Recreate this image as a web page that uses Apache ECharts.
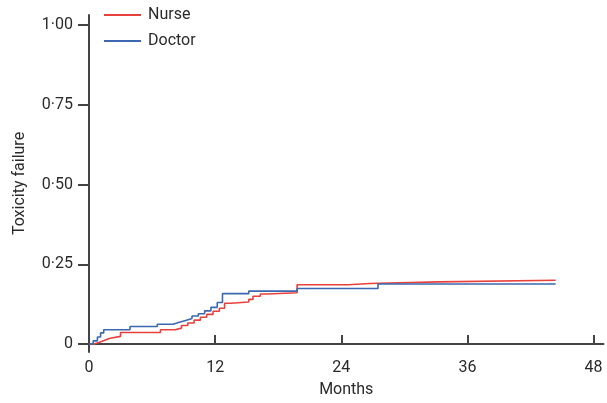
<!DOCTYPE html>
<html>
<head>
<meta charset="utf-8">
<script src="https://cdn.jsdelivr.net/npm/echarts@6/dist/echarts.min.js"></script>
<style>
html,body{margin:0;padding:0;background:#fff;}
#chart{width:607px;height:403px;}
</style>
</head>
<body>
<div id="chart"></div>
<script>
// Data (months, cumulative toxicity failure)
var seriesNames = ['Nurse', 'Doctor'];
var xTicks = [0, 12, 24, 36, 48];
var yTicks = [0, 0.25, 0.5, 0.75, 1];
var yTickLabels = ['0', '0·25', '0·50', '0·75', '1·00'];

var nurseMonths = [0, 0.5, 1.0, 1.5, 2.0, 3.0, 6.8, 8.2, 8.8, 9.4, 10.0, 10.6, 11.2, 11.8, 12.4, 12.9, 13.5, 15.2, 15.6, 16.3, 17.0, 19.8, 24.7, 26.7, 33.3, 44.4];
var nurseValues = [0, 0.006, 0.012, 0.018, 0.024, 0.036, 0.045, 0.05, 0.058, 0.066, 0.075, 0.084, 0.093, 0.103, 0.112, 0.128, 0.132, 0.14, 0.15, 0.157, 0.161, 0.186, 0.19, 0.195, 0.2, 0.2];

var doctorMonths = [0, 0.4, 0.8, 1.1, 1.4, 3.9, 6.5, 8.0, 8.6, 9.2, 9.8, 10.4, 11.0, 11.6, 12.2, 12.7, 15.2, 19.8, 27.5, 44.4];
var doctorValues = [0, 0.01, 0.022, 0.035, 0.045, 0.055, 0.062, 0.068, 0.074, 0.08, 0.088, 0.095, 0.104, 0.115, 0.13, 0.158, 0.166, 0.174, 0.188, 0.188];

function zip(a, b) { return a.map(function (v, i) { return [v, b[i]]; }); }

var axisColor = '#444';
var textColor = '#2a2a2a';
var font = 'Roboto';

var chart = echarts.init(document.getElementById('chart'), null, {renderer: 'canvas'});
chart.setOption({
  animation: false,
  backgroundColor: '#fff',
  textStyle: {fontFamily: font},
  grid: {left: 89, right: 3.5, top: 15, bottom: 49, containLabel: false},
  legend: {
    orient: 'vertical',
    left: 104,
    top: 7,
    padding: 0,
    itemWidth: 37,
    itemHeight: 2,
    itemGap: 10,
    icon: 'rect',
    textStyle: {fontFamily: font, fontSize: 16, color: textColor, lineHeight: 16, padding: [0, 0, 0, 2]},
    data: seriesNames
  },
  xAxis: {
    type: 'value',
    min: 0,
    max: 48.95,
    name: 'Months',
    nameLocation: 'middle',
    nameGap: 30,
    nameTextStyle: {fontFamily: font, fontSize: 16, color: textColor},
    axisLine: {show: true, lineStyle: {color: axisColor, width: 2}},
    axisTick: {show: true, inside: true, length: 9, lineStyle: {color: axisColor, width: 2}, customValues: xTicks},
    axisLabel: {show: true, customValues: xTicks, margin: 8, fontFamily: font, fontSize: 16, color: textColor},
    splitLine: {show: false}
  },
  yAxis: {
    type: 'value',
    min: -0.0249,
    max: 1.0312,
    name: 'Toxicity failure',
    nameLocation: 'middle',
    nameGap: 61,
    nameRotate: 90,
    nameTextStyle: {fontFamily: font, fontSize: 16, color: textColor},
    axisLine: {show: true, onZero: false, lineStyle: {color: axisColor, width: 2}},
    axisTick: {show: true, inside: false, length: 11, lineStyle: {color: axisColor, width: 2}, customValues: yTicks},
    axisLabel: {
      show: true, customValues: yTicks, margin: 16, fontFamily: font, fontSize: 16, color: textColor,
      formatter: function (v) {
        for (var i = 0; i < yTicks.length; i++) { if (Math.abs(yTicks[i] - v) < 1e-6) return yTickLabels[i]; }
        return '';
      }
    },
    splitLine: {show: false}
  },
  series: [
    {
      name: seriesNames[0], type: 'line', step: 'end', showSymbol: false, symbol: 'none',
      data: zip(nurseMonths, nurseValues),
      lineStyle: {color: '#e8413c', width: 1.6},
      itemStyle: {color: '#e8413c'},
      z: 2
    },
    {
      name: seriesNames[1], type: 'line', step: 'end', showSymbol: false, symbol: 'none',
      data: zip(doctorMonths, doctorValues),
      lineStyle: {color: '#3b68b0', width: 1.6},
      itemStyle: {color: '#3b68b0'},
      z: 3
    }
  ]
});
</script>
</body>
</html>
